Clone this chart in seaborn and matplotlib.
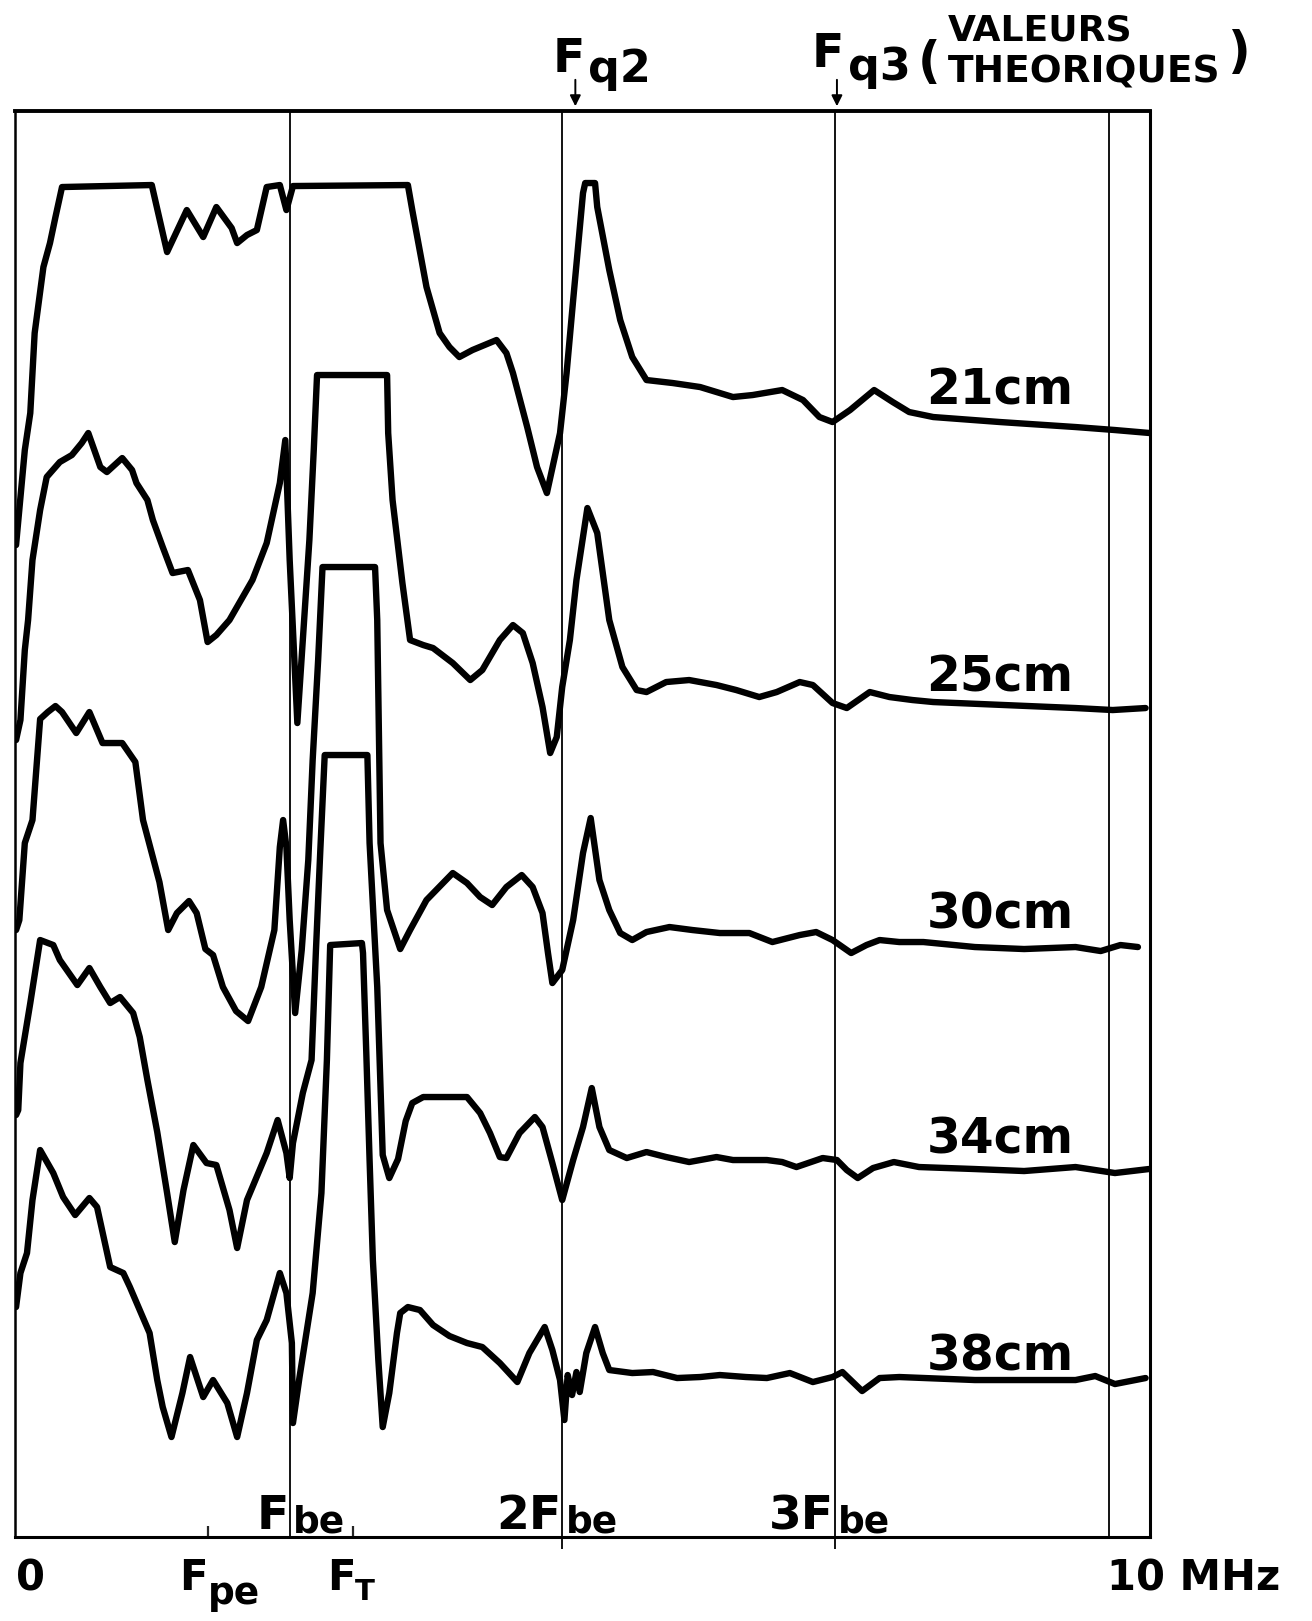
import pandas as pd
import numpy as np
import matplotlib
matplotlib.use("Agg")
import matplotlib.pyplot as plt
import seaborn as sns

# spectra: frequency in MHz, level in arbitrary units (0 = bottom of frame)
freq_21 = [0.01, 0.09, 0.14, 0.18, 0.26, 0.32, 0.37, 0.43, 1.25, 1.39, 1.57, 1.72, 1.84, 1.98, 2.03, 2.12,
           2.21, 2.30, 2.42, 2.48, 2.54, 3.59, 3.63, 3.76, 3.88, 3.97, 4.06, 4.18, 4.40, 4.49, 4.55, 4.68,
           4.77, 4.86, 4.98, 5.04, 5.10, 5.19, 5.21, 5.30, 5.32, 5.43, 5.53, 5.64, 5.77, 6.01, 6.26, 6.56,
           6.74, 7.01, 7.20, 7.35, 7.47, 7.63, 7.85, 8.02, 8.17, 8.39, 9.00, 9.69, 10.05, 10.37]
level_21 = [99.2, 108.7, 112.4, 120.4, 127.0, 129.4, 132.0, 135.0, 135.2, 128.5, 132.7, 130.0, 133.0, 130.9,
            129.4, 130.2, 130.7, 135.0, 135.2, 132.7, 135.1, 135.2, 132.7, 125.0, 120.4, 119.0, 118.0, 118.7,
            119.7, 118.4, 116.4, 111.0, 107.0, 104.4, 110.4, 116.4, 123.7, 134.4, 135.4, 135.4, 133.0, 126.7,
            121.7, 118.0, 115.7, 115.4, 115.0, 114.0, 114.2, 114.7, 113.7, 112.0, 111.5, 112.7, 114.7, 113.5,
            112.5, 112.0, 111.5, 111.0, 110.7, 110.4]

freq_25 = [0.01, 0.05, 0.09, 0.12, 0.16, 0.23, 0.29, 0.41, 0.52, 0.61, 0.67, 0.78, 0.84, 0.98, 1.07, 1.11,
           1.21, 1.26, 1.35, 1.44, 1.58, 1.69, 1.76, 1.84, 1.96, 2.17, 2.30, 2.42, 2.47, 2.51, 2.58, 2.63,
           2.69, 2.73, 2.76, 3.40, 3.41, 3.45, 3.54, 3.61, 3.73, 3.82, 4.00, 4.16, 4.27, 4.43, 4.55, 4.64,
           4.73, 4.82, 4.89, 4.95, 5.00, 5.07, 5.13, 5.23, 5.32, 5.43, 5.55, 5.68, 5.77, 5.95, 6.16, 6.41,
           6.59, 6.80, 6.96, 7.17, 7.29, 7.47, 7.60, 7.81, 7.99, 8.20, 8.39, 9.04, 9.69, 10.03, 10.33]
level_25 = [79.7, 81.7, 88.7, 91.7, 97.7, 102.7, 106.0, 107.5, 108.2, 109.4, 110.4, 107.0, 106.5, 107.9,
            106.7, 105.4, 103.7, 101.7, 99.0, 96.4, 96.7, 93.7, 89.5, 90.2, 91.7, 95.7, 99.4, 105.4, 109.7,
            97.7, 81.4, 89.7, 99.7, 108.7, 116.2, 116.2, 110.4, 103.7, 95.4, 89.7, 89.2, 88.9, 87.4, 85.7,
            86.7, 89.7, 91.2, 90.4, 87.4, 83.0, 78.4, 80.0, 85.0, 89.7, 95.7, 102.9, 100.4, 91.7, 87.0, 84.7,
            84.5, 85.5, 85.7, 85.2, 84.7, 84.0, 84.5, 85.5, 85.2, 83.4, 82.9, 84.5, 84.0, 83.7, 83.5, 83.2,
            82.9, 82.7, 82.9]

freq_30 = [0.01, 0.04, 0.09, 0.16, 0.23, 0.30, 0.37, 0.43, 0.56, 0.68, 0.80, 0.98, 1.10, 1.17, 1.32, 1.40,
           1.48, 1.59, 1.66, 1.74, 1.81, 1.90, 2.02, 2.13, 2.25, 2.37, 2.42, 2.45, 2.48, 2.51, 2.56, 2.62,
           2.68, 2.72, 2.77, 2.81, 3.29, 3.31, 3.34, 3.40, 3.52, 3.61, 3.76, 4.00, 4.13, 4.25, 4.36, 4.49,
           4.63, 4.73, 4.82, 4.87, 4.91, 5.00, 5.10, 5.19, 5.26, 5.34, 5.43, 5.53, 5.64, 5.77, 5.98, 6.19,
           6.44, 6.71, 6.92, 7.17, 7.32, 7.47, 7.64, 7.78, 7.90, 8.08, 8.30, 8.77, 9.22, 9.69, 9.92, 10.10,
           10.26]
level_30 = [60.7, 61.7, 69.4, 71.7, 81.8, 82.5, 83.1, 82.5, 80.4, 82.5, 79.4, 79.4, 77.5, 71.7, 65.5, 60.7,
            62.4, 63.6, 62.4, 58.8, 58.2, 55.0, 52.6, 51.6, 55.0, 60.7, 69.0, 71.7, 69.0, 61.7, 52.4, 58.7,
            67.7, 77.7, 87.7, 97.0, 97.0, 91.7, 69.4, 62.7, 58.8, 60.7, 63.7, 66.4, 65.4, 64.0, 63.2, 65.0,
            66.2, 65.0, 62.4, 58.4, 55.4, 56.7, 61.7, 68.4, 71.9, 65.7, 62.7, 60.4, 59.7, 60.5, 61.0, 60.7,
            60.4, 60.4, 59.5, 60.2, 60.5, 59.7, 58.4, 59.2, 59.7, 59.5, 59.5, 59.0, 58.8, 59.0, 58.6, 59.2,
            59.0]

freq_34 = [0.01, 0.03, 0.05, 0.14, 0.23, 0.35, 0.41, 0.57, 0.68, 0.78, 0.87, 0.96, 1.08, 1.14, 1.21, 1.30,
           1.39, 1.46, 1.54, 1.63, 1.75, 1.84, 1.96, 2.03, 2.12, 2.17, 2.30, 2.40, 2.48, 2.51, 2.54, 2.63,
           2.71, 2.75, 2.79, 2.83, 3.22, 3.24, 3.31, 3.36, 3.42, 3.50, 3.57, 3.63, 3.73, 4.13, 4.25, 4.34,
           4.43, 4.49, 4.61, 4.75, 4.82, 4.91, 5.00, 5.10, 5.19, 5.27, 5.34, 5.43, 5.59, 5.77, 5.95, 6.16,
           6.41, 6.56, 6.87, 7.01, 7.14, 7.38, 7.51, 7.60, 7.70, 7.84, 8.03, 8.26, 8.77, 9.22, 9.69, 10.05,
           10.36]
level_34 = [42.2, 42.7, 47.4, 53.4, 59.7, 59.2, 57.7, 55.2, 56.9, 55.0, 53.4, 54.0, 52.4, 50.0, 45.7, 40.5,
            34.4, 29.5, 34.7, 39.2, 37.4, 37.2, 32.7, 28.9, 33.7, 35.0, 38.4, 41.7, 38.4, 35.9, 39.4, 44.4,
            47.7, 58.7, 68.7, 78.2, 78.2, 69.4, 55.0, 38.2, 35.9, 37.8, 41.6, 43.4, 44.0, 44.0, 42.4, 40.4,
            38.0, 37.9, 40.4, 42.0, 41.0, 37.4, 33.7, 37.7, 41.0, 44.9, 41.0, 38.7, 37.9, 38.5, 38.0, 37.5,
            38.0, 37.7, 37.7, 37.5, 37.0, 37.9, 37.7, 36.7, 35.9, 36.9, 37.5, 37.0, 36.8, 36.6, 37.0, 36.4,
            36.8]

freq_38 = [0.01, 0.05, 0.11, 0.16, 0.23, 0.35, 0.44, 0.55, 0.68, 0.75, 0.87, 0.99, 1.05, 1.23, 1.30, 1.35,
           1.43, 1.53, 1.60, 1.72, 1.81, 1.94, 2.03, 2.12, 2.21, 2.30, 2.42, 2.48, 2.53, 2.54, 2.60, 2.72,
           2.80, 2.85, 2.88, 3.17, 3.18, 3.21, 3.24, 3.27, 3.32, 3.36, 3.42, 3.49, 3.52, 3.59, 3.70, 3.82,
           3.97, 4.13, 4.27, 4.43, 4.59, 4.70, 4.84, 4.91, 4.98, 5.02, 5.05, 5.09, 5.13, 5.16, 5.22, 5.30,
           5.37, 5.43, 5.64, 5.83, 6.05, 6.26, 6.44, 6.68, 6.87, 7.08, 7.29, 7.47, 7.56, 7.74, 7.90, 8.08,
           8.77, 9.69, 9.87, 10.05, 10.33]
level_38 = [23.0, 26.4, 28.4, 33.7, 38.7, 36.4, 34.0, 32.2, 33.9, 33.0, 27.0, 26.4, 25.0, 20.4, 15.7, 13.0,
            10.0, 14.4, 18.0, 14.0, 15.7, 13.4, 10.0, 14.4, 19.7, 21.7, 26.4, 24.4, 19.4, 11.4, 16.0, 24.4,
            34.4, 47.7, 59.2, 59.4, 58.4, 48.4, 37.7, 27.7, 17.7, 11.0, 14.4, 20.4, 22.4, 23.0, 22.7, 21.2,
            20.1, 19.4, 19.0, 17.4, 15.5, 18.4, 21.0, 18.7, 15.7, 11.7, 16.2, 14.2, 16.5, 14.5, 18.4, 21.0,
            18.4, 16.7, 16.4, 16.5, 15.9, 16.0, 16.2, 16.0, 15.9, 16.4, 15.5, 16.0, 16.5, 14.6, 15.9, 16.0,
            15.7, 15.7, 16.1, 15.3, 15.9]

distances = ["21cm", "25cm", "30cm", "34cm", "38cm"]

# characteristic frequencies (MHz)
F_pe = 1.76
F_T = 3.09
harmonics = [2.51, 5.00, 7.49]   # Fbe, 2Fbe, 3Fbe
f_q2 = 5.12
f_q3 = 7.51

frames = []
for name, f, l in zip(distances,
                      [freq_21, freq_25, freq_30, freq_34, freq_38],
                      [level_21, level_25, level_30, level_34, level_38]):
    frames.append(pd.DataFrame({"freq": f, "level": l, "distance": name}))
df = pd.concat(frames, ignore_index=True)

sns.set_style("white")
plt.rcParams["font.family"] = ["DejaVu Sans"]
plt.rcParams["lines.solid_joinstyle"] = "round"
plt.rcParams["lines.solid_capstyle"] = "round"

fig = plt.figure(figsize=(13.12, 16.21), dpi=100)
ax = fig.add_axes([0.0114, 0.0518, 0.8651, 0.8797])

XMAX = 10.37
YMAX = 142.6

sns.lineplot(data=df, x="freq", y="level", hue="distance", palette=["black"] * 5,
             estimator=None, sort=False, lw=4.6, legend=False, ax=ax)

ax.set_xlim(0, XMAX)
ax.set_ylim(0, YMAX)
ax.set_xlabel("")
ax.set_ylabel("")
ax.set_yticks([])
ax.set_xticks([F_pe, F_T])
ax.set_xticklabels([])
ax.tick_params(axis="x", direction="in", length=8, width=1.6, bottom=True)

for side, w in zip(["top", "bottom", "left", "right"], [2.8, 2.2, 1.8, 2.2]):
    ax.spines[side].set_visible(True)
    ax.spines[side].set_color("black")
    ax.spines[side].set_linewidth(w)

# vertical reference lines
ax.vlines(harmonics[0], 0, YMAX, color="black", lw=1.3)
ax.vlines(harmonics[1:], -1.2, YMAX, color="black", lw=1.3, clip_on=False)
ax.vlines(10.0, 0, YMAX, color="black", lw=1.3)

bold = dict(fontweight="bold", color="black")

# distance labels
for name, ly in zip(distances, [114.7, 86.0, 62.3, 39.8, 18.1]):
    ax.text(9.0, ly, name, ha="center", va="center", fontsize=35, **bold)

# Fbe, 2Fbe, 3Fbe labels inside the frame
for h, pre in zip(harmonics, ["F", "2F", "3F"]):
    ax.text(h - 0.01, 0.8, pre, ha="right", va="baseline", fontsize=34, **bold)
    ax.text(h + 0.03, 0.5, "be", ha="left", va="baseline", fontsize=27, **bold)

# labels under the axis
ax.text(0.14, -5.3, "0", ha="center", va="baseline", fontsize=30, **bold)
ax.text(F_pe, -5.3, "F", ha="right", va="baseline", fontsize=30, **bold)
ax.text(F_pe, -6.7, "pe", ha="left", va="baseline", fontsize=27, **bold)
ax.text(F_T + 0.02, -5.3, "F", ha="right", va="baseline", fontsize=30, **bold)
ax.text(F_T + 0.02, -6.3, "T", ha="left", va="baseline", fontsize=21, **bold)
ax.text(9.98, -5.3, "10 MHz", ha="left", va="baseline", fontsize=30, **bold)

# theoretical Fq2 / Fq3 markers above the frame
ax.text(f_q2 + 0.09, 146.5, "F", ha="right", va="baseline", fontsize=34, **bold)
ax.text(f_q2 + 0.12, 145.5, "q2", ha="left", va="baseline", fontsize=32, **bold)
ax.text(f_q3 + 0.06, 147.0, "F", ha="right", va="baseline", fontsize=34, **bold)
ax.text(f_q3 + 0.10, 145.7, "q3", ha="left", va="baseline", fontsize=32, **bold)
ax.text(8.25, 146.0, "(", ha="left", va="baseline", fontsize=36, **bold)
ax.text(8.52, 149.7, "VALEURS", ha="left", va="baseline", fontsize=26, **bold)
ax.text(8.52, 145.5, "THEORIQUES", ha="left", va="baseline", fontsize=27, **bold)
ax.text(11.08, 147.0, ")", ha="left", va="baseline", fontsize=36, **bold)
for fq in [f_q2, f_q3]:
    ax.annotate("", xy=(fq, YMAX + 0.2), xytext=(fq, YMAX + 3.4),
                arrowprops=dict(arrowstyle="-|>", color="black", lw=1.4, mutation_scale=16),
                annotation_clip=False)

plt.savefig("out.png", dpi=100, facecolor="white")
